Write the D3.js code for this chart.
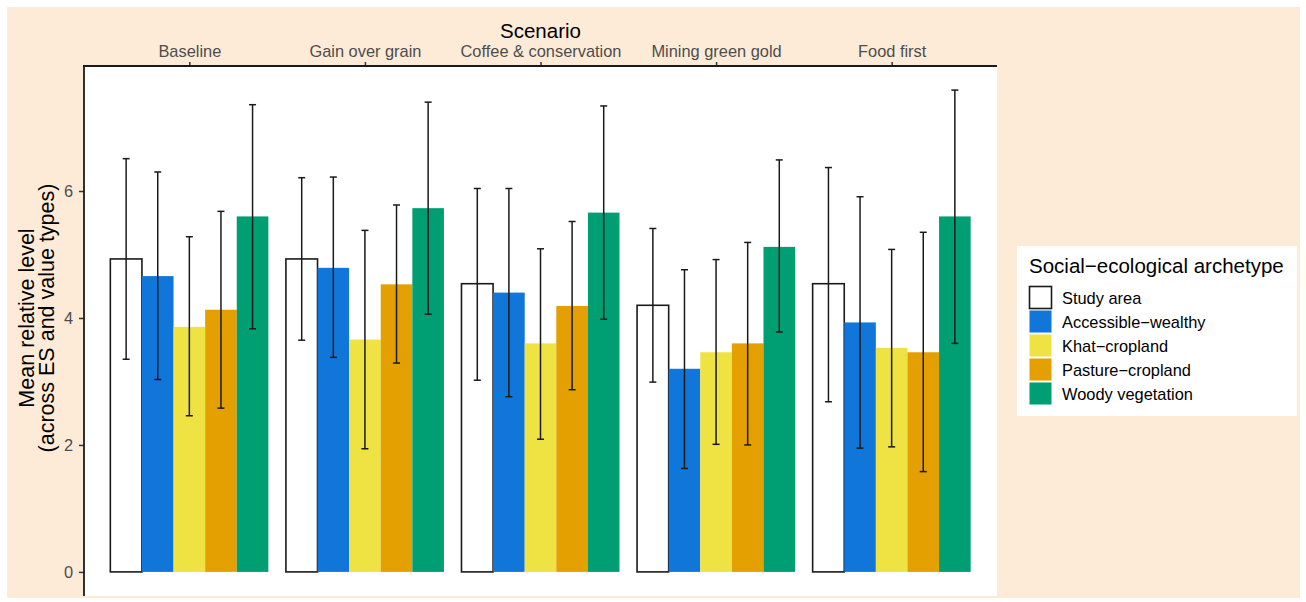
<!DOCTYPE html>
<html>
<head>
<meta charset="utf-8">
<script src="https://cdn.jsdelivr.net/npm/d3@7"></script>
<style>
  html, body { margin: 0; padding: 0; background: #ffffff; }
  svg { display: block; font-family: "Liberation Sans", Arial, Helvetica, sans-serif; }
</style>
</head>
<body>
<svg id="chart" width="1306" height="602"></svg>
<script>
// ---- Data ----
const scenarios = ["Baseline", "Gain over grain", "Coffee & conservation", "Mining green gold", "Food first"];
const archetypes = ["Study area", "Accessible\u2212wealthy", "Khat\u2212cropland", "Pasture\u2212cropland", "Woody vegetation"];
const archetypeColors = ["#FFFFFF", "#1076DA", "#EEE343", "#E49F00", "#009E73"];

const meanStudyArea   = [4.93, 4.93, 4.54, 4.20, 4.54];
const meanAccessible  = [4.66, 4.79, 4.40, 3.20, 3.93];
const meanKhat        = [3.86, 3.66, 3.60, 3.46, 3.53];
const meanPasture     = [4.13, 4.53, 4.19, 3.60, 3.46];
const meanWoody       = [5.60, 5.73, 5.66, 5.12, 5.60];

const lowerStudyArea  = [3.35, 3.65, 3.02, 2.99, 2.68];
const lowerAccessible = [3.03, 3.38, 2.76, 1.63, 1.95];
const lowerKhat       = [2.46, 1.94, 2.09, 2.01, 1.97];
const lowerPasture    = [2.58, 3.29, 2.87, 2.00, 1.58];
const lowerWoody      = [3.83, 4.06, 3.98, 3.78, 3.60];

const upperStudyArea  = [6.51, 6.21, 6.04, 5.41, 6.37];
const upperAccessible = [6.30, 6.22, 6.04, 4.76, 5.91];
const upperKhat       = [5.28, 5.38, 5.09, 4.92, 5.08];
const upperPasture    = [5.68, 5.78, 5.52, 5.19, 5.35];
const upperWoody      = [7.36, 7.40, 7.34, 6.49, 7.59];

const yTicks = [0, 2, 4, 6];

const xTitle = "Scenario";
const yTitleLines = ["Mean relative level", "(across ES and value types)"];
const legendTitle = "Social\u2212ecological archetype";

// ---- Build records ----
const means = [meanStudyArea, meanAccessible, meanKhat, meanPasture, meanWoody];
const lowers = [lowerStudyArea, lowerAccessible, lowerKhat, lowerPasture, lowerWoody];
const uppers = [upperStudyArea, upperAccessible, upperKhat, upperPasture, upperWoody];
const records = [];
scenarios.forEach((s, si) => {
  archetypes.forEach((a, ai) => {
    records.push({ scenario: s, archetype: a, ai, mean: means[ai][si], lo: lowers[ai][si], hi: uppers[ai][si] });
  });
});

// ---- Layout ----
const svg = d3.select("#chart");
const panel = { left: 84, right: 997, top: 66, bottom: 596 };

svg.append("rect").attr("x", 7).attr("y", 7).attr("width", 1293).attr("height", 591).attr("fill", "#FDEBD8");
svg.append("rect").attr("x", panel.left).attr("y", panel.top)
  .attr("width", panel.right - panel.left).attr("height", panel.bottom - panel.top).attr("fill", "#FFFFFF");

const x = d3.scalePoint().domain(scenarios).range([panel.left, panel.right]).padding(0.6);
const step = x.step();
const xSub = d3.scaleBand().domain(archetypes).range([-0.45 * step, 0.45 * step]).paddingInner(0);

const yMax = d3.max(records, d => d.hi);
const yExp = 0.05 * yMax;
const y = d3.scaleLinear().domain([-yExp, yMax + yExp]).range([panel.bottom, panel.top]);

const color = d3.scaleOrdinal().domain(archetypes).range(archetypeColors);

// Bars
svg.append("g").selectAll("rect").data(records).join("rect")
  .attr("x", d => x(d.scenario) + xSub(d.archetype))
  .attr("width", xSub.bandwidth())
  .attr("y", d => y(d.mean))
  .attr("height", d => y(0) - y(d.mean))
  .attr("fill", d => color(d.archetype))
  .attr("stroke", d => d.ai === 0 ? "#1a1a1a" : "none")
  .attr("stroke-width", 1.6);

// Error bars
const cap = 3.5;
const eb = svg.append("g").attr("stroke", "#1a1a1a").attr("stroke-width", 1.5);
records.forEach(d => {
  const cx = x(d.scenario) + xSub(d.archetype) + xSub.bandwidth() / 2;
  eb.append("line").attr("x1", cx).attr("x2", cx).attr("y1", y(d.lo)).attr("y2", y(d.hi));
  eb.append("line").attr("x1", cx - cap).attr("x2", cx + cap).attr("y1", y(d.lo)).attr("y2", y(d.lo));
  eb.append("line").attr("x1", cx - cap).attr("x2", cx + cap).attr("y1", y(d.hi)).attr("y2", y(d.hi));
});

// Top axis
const gx = svg.append("g").attr("transform", `translate(0,${panel.top})`)
  .call(d3.axisTop(x).tickSize(4).tickPadding(5));
gx.select(".domain").remove();
gx.selectAll(".tick line").attr("stroke", "#333").attr("stroke-width", 1.5);
gx.selectAll(".tick text").attr("fill", "#4d4d4d").style("font-size", "16.4px")
  .style("font-family", "'Liberation Sans', Arial, sans-serif");
svg.append("line").attr("x1", panel.left - 1).attr("x2", panel.right).attr("y1", panel.top).attr("y2", panel.top)
  .attr("stroke", "#1a1a1a").attr("stroke-width", 1.8);

// Left axis
const gy = svg.append("g").attr("transform", `translate(${panel.left},0)`)
  .call(d3.axisLeft(y).tickValues(yTicks).tickFormat(d3.format("d")).tickSize(5).tickPadding(6));
gy.select(".domain").remove();
gy.selectAll(".tick line").attr("stroke", "#333").attr("stroke-width", 1.5);
gy.selectAll(".tick text").attr("fill", "#4d4d4d").style("font-size", "16.4px")
  .style("font-family", "'Liberation Sans', Arial, sans-serif");
svg.append("line").attr("x1", panel.left).attr("x2", panel.left).attr("y1", panel.top - 1).attr("y2", panel.bottom)
  .attr("stroke", "#1a1a1a").attr("stroke-width", 1.8);

// Axis titles
svg.append("text").attr("x", (panel.left + panel.right) / 2).attr("y", 38)
  .attr("text-anchor", "middle").style("font-size", "20.5px").attr("fill", "#000").text(xTitle);

const yt = svg.append("text").attr("transform", `translate(34,318) rotate(-90)`)
  .attr("text-anchor", "middle").style("font-size", "21.5px").attr("fill", "#000");
yTitleLines.forEach((t, i) => {
  yt.append("tspan").attr("x", 0).attr("dy", i === 0 ? 0 : 20).text(t);
});

// Legend
const lg = svg.append("g");
lg.append("rect").attr("x", 1017).attr("y", 246).attr("width", 280).attr("height", 170).attr("fill", "#FFFFFF");
lg.append("text").attr("x", 1029).attr("y", 273).style("font-size", "20.5px").attr("fill", "#000").text(legendTitle);
archetypes.forEach((a, i) => {
  const ky = 286 + i * 24;
  lg.append("rect").attr("x", 1029.5).attr("y", ky + 0.5).attr("width", 22).attr("height", 22)
    .attr("fill", color(a)).attr("stroke", i === 0 ? "#1a1a1a" : "none").attr("stroke-width", 1.6);
  lg.append("text").attr("x", 1062).attr("y", ky + 12).attr("dy", "0.35em")
    .style("font-size", "16.4px").attr("fill", "#000").text(a);
});
</script>
</body>
</html>
